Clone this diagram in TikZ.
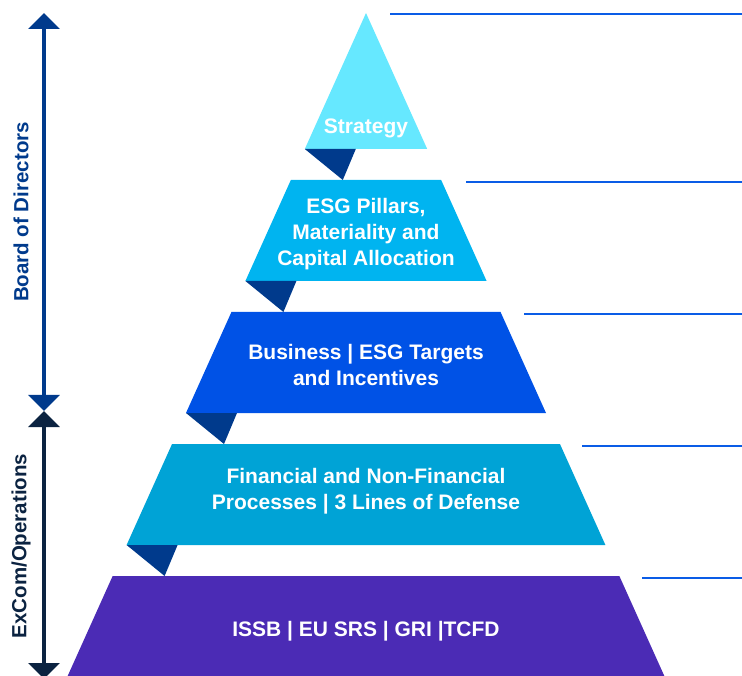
\documentclass[tikz,border=0pt]{standalone}
\usepackage{fontspec}
\setmainfont{Liberation Sans}
\usetikzlibrary{arrows.meta}
\definecolor{esg_sky}{RGB}{102,232,255}
\definecolor{esg_cyan}{RGB}{0,180,240}
\definecolor{esg_blue}{RGB}{0,82,230}
\definecolor{esg_teal}{RGB}{0,163,214}
\definecolor{esg_purple}{RGB}{75,43,181}
\definecolor{esg_navy}{RGB}{0,58,140}
\definecolor{esg_ink}{RGB}{11,35,65}
\definecolor{esg_line}{RGB}{10,92,230}

\begin{document}
\begin{tikzpicture}[x=1pt, y=-1pt,
    tier/.style={text=white, inner sep=0pt, align=center,
                 font=\fontsize{21}{26}\selectfont\bfseries},
    side/.style={inner sep=0pt, rotate=90,
                 font=\fontsize{20.5}{24}\selectfont\bfseries},
    guide/.style={draw=esg_line, line width=2.8pt},
    span/.style={line width=4.5pt,
                 {Triangle[width=31pt,length=16pt]}-{Triangle[width=31pt,length=16pt]}}]
  \useasboundingbox (0,0) rectangle (742,676);

  % pyramid bands: one triangle (apex 366,13) cut by white gaps
  \foreach \t/\b/\c in {13/149/esg_sky, 180/281/esg_cyan, 312/413/esg_blue,
                        444/545/esg_teal, 576/676/esg_purple} {
    \fill[\c] ({366-0.45*(\t-13)},\t) -- ({366+0.45*(\t-13)},\t)
      -- ({366+0.45*(\b-13)},\b) -- ({366-0.45*(\b-13)},\b) -- cycle;
  }
  % folded corners under each band
  \foreach \b in {149,281,413,545} {
    \fill[esg_navy] ({366-0.45*(\b-13)},\b) -- ({366-0.45*(\b-13)+51},\b)
      -- ({366-0.45*(\b-13)+38},\b+31) -- cycle;
  }

  \node[tier] (strategy) at (366,128) {Strategy};
  \node[tier] (pillars) at (366,234) {ESG Pillars,\\Materiality and\\Capital Allocation};
  \node[tier] (targets) at (366,365) {Business | ESG Targets\\and Incentives};
  \node[tier] (process) at (366,491.5) {Financial and Non-Financial\\Processes | 3 Lines of Defense};
  \node[tier] (frameworks) at (366,631) {ISSB | EU SRS | GRI |TCFD};

  % guide lines on the right
  \foreach \y/\x [count=\i] in {14/390, 182/466, 314/524, 446/582, 578/642} {
    \coordinate (guide\i) at (\x,\y);
    \coordinate (guide\i end) at (742,\y);
    \draw[guide] (guide\i) -- (guide\i end);
  }

  % governance spans
  \coordinate (board top) at (44,13);
  \coordinate (board bottom) at (44,411);
  \coordinate (excom top) at (44,411);
  \coordinate (excom bottom) at (44,679);
  \draw[span, esg_navy] (board top) -- (board bottom);
  \draw[span, esg_ink] (excom top) -- (excom bottom);
  \node[side, text=esg_navy] (board) at (21,212) {Board of Directors};
  \node[side, text=esg_ink] (excom) at (21,546) {ExCom/Operations};
\end{tikzpicture}
\end{document}
